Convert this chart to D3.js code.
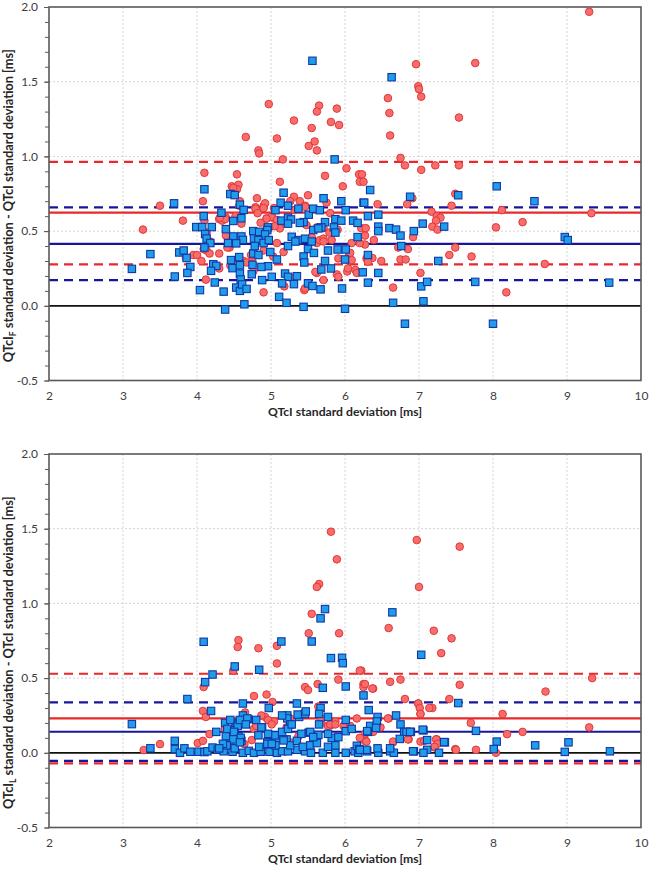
<!DOCTYPE html>
<html><head><meta charset="utf-8">
<script src="https://cdn.jsdelivr.net/npm/d3@7"></script>
<style>
body{margin:0;background:#fff;}
svg{display:block;font-family:Lato,"Open Sans",sans-serif;}
</style>
</head><body>
<svg id="chart" width="650" height="873"></svg>
<script>
// ---------- tick labels ----------
const xTickValues = [2,3,4,5,6,7,8,9,10];
const yTickValues = [-0.5,0,0.5,1,1.5,2];

// ---------- top panel (QTcI_F) ----------
const topRed = [
[4.97,1.35],[4.66,1.13],[4.83,1.04],[4.84,1.02],[5.08,1.12],[5.31,1.24],[5.65,1.34],[5.62,1.30],[5.55,1.19],[5.51,1.07],[5.59,1.10],[5.62,1.04],[5.81,1.23],[5.92,1.21],[5.89,1.32],[5.16,0.98],[4.10,0.89],[4.54,0.88],[4.47,0.80],[4.56,0.81],[4.54,0.78],[4.08,0.70],[3.50,0.67],[3.81,0.57],[3.27,0.51],[4.10,0.57],[4.13,0.49],[4.30,0.58],[4.39,0.59],[4.34,0.57],[4.81,0.72],[4.90,0.67],[4.79,0.66],[4.94,0.585],[5.02,0.59],[5.12,0.83],[5.31,0.73],[5.26,0.70],[5.50,0.74],[5.39,0.70],[5.46,0.67],[5.73,0.87],[5.75,0.69],[5.79,0.49],[5.97,0.80],[6.02,0.92],[6.19,0.88],[6.20,0.83],[4.39,0.47],[4.44,0.39],[4.13,0.37],[4.09,0.38],[3.95,0.34],[4.00,0.34],[3.85,0.32],[4.12,0.175],[4.30,0.35],[4.49,0.30],[4.63,0.30],[4.67,0.29],[4.76,0.23],[4.75,0.32],[4.90,0.09],[4.90,0.37],[5.03,0.33],[5.08,0.42],[5.17,0.36],[5.12,0.53],[5.26,0.19],[5.18,0.13],[5.45,0.105],[5.55,0.46],[5.62,0.42],[5.62,0.22],[5.66,0.44],[5.71,0.45],[5.89,0.21],[6.03,0.23],[6.05,0.33],[6.06,0.30],[6.14,0.24],[5.48,0.54],
[4.92,0.686],[4.90,0.654],[5.04,0.654],[5.01,0.596],[4.94,0.583],[5.08,0.574],[4.86,0.556],[5.12,0.518],[5.05,0.533],[5.32,0.64],[5.46,0.663],[5.62,0.525],[5.71,0.52],[5.82,0.44],[6.09,0.42],[6.07,0.354],[5.91,0.317],[6.09,0.306],[6.04,0.25],[5.91,0.194],[5.71,0.43],[5.80,0.62],[6.22,0.52],[5.90,0.51],[5.60,0.227],[5.46,0.117],[5.71,0.172],
[4.14,0.44],[4.18,0.43],[4.17,0.35],[4.41,0.39],[4.45,0.42],[4.49,0.79],[4.48,0.75],[4.58,0.70],[4.57,0.67],[4.52,0.60],[4.60,0.55],[4.38,0.58],[4.31,0.59],[4.79,0.65],[4.82,0.62],[4.73,0.34],[4.75,0.28],[4.45,0.27],[4.51,0.29],[4.30,0.25],[4.06,0.30],
[9.30,1.968],[6.96,1.617],[7.76,1.625],[6.99,1.47],[7.00,1.45],[7.03,1.40],[6.58,1.39],[6.60,1.29],[6.61,1.14],[7.54,1.26],[6.75,0.99],[6.81,0.94],[7.03,0.91],[7.22,0.94],[7.54,0.94],[6.23,0.88],[6.25,0.83],[6.44,0.68],[6.84,0.68],[6.91,0.72],[7.49,0.75],[7.44,0.67],[7.17,0.63],[7.24,0.60],[7.29,0.59],[7.23,0.57],[7.18,0.53],[7.25,0.51],[8.12,0.64],[8.40,0.56],[8.04,0.525],[9.33,0.62],[8.70,0.28],[8.18,0.09],[6.92,0.46],[6.85,0.38],[7.49,0.39],[7.41,0.34],[7.71,0.33],[7.02,0.22],[6.65,0.122],[6.75,0.31],[6.82,0.31],[6.49,0.30],[6.39,0.44],[6.28,0.52],[6.27,0.41],[6.20,0.42],[6.37,0.32],[6.16,0.22],[6.72,0.39],[6.29,0.317],[6.31,0.295],[6.27,0.47]
];
const topBlue = [
[3.69,0.686],[3.37,0.346],[3.12,0.247],[3.70,0.196],[3.76,0.357],[3.82,0.37],[3.86,0.32],[3.91,0.26],[3.87,0.22],[4.04,0.105],[3.99,0.527],[4.07,0.527],[4.20,0.527],[4.09,0.60],[4.10,0.78],[4.11,0.48],[4.13,0.45],[4.18,0.42],[4.10,0.39],[4.22,0.278],[4.26,0.267],[4.19,0.234],[4.24,0.156],[4.36,0.095],[4.38,-0.025],[4.33,0.623],[4.45,0.748],[4.51,0.741],[4.58,0.677],[4.63,0.642],[4.60,0.586],[4.49,0.568],[4.39,0.513],[4.49,0.464],[4.60,0.464],[4.62,0.441],[4.42,0.42],[4.53,0.418],[4.46,0.306],[4.57,0.326],[4.48,0.252],[4.58,0.272],[4.58,0.216],[4.59,0.176],[4.53,0.122],[4.58,0.10],[4.61,0.143],[4.67,0.113],[4.64,0.01],[4.75,0.274],[4.74,0.211],[4.76,0.50],[4.77,0.45],[4.76,0.35],
[5.56,1.64],[5.86,0.98],
[5.17,0.757],[5.13,0.69],[5.23,0.67],[5.06,0.64],[5.37,0.65],[5.51,0.61],[5.57,0.65],[5.66,0.64],[5.71,0.72],[5.95,0.70],[6.01,0.64],[6.25,0.69],[5.14,0.57],[5.23,0.59],[5.27,0.578],[5.23,0.55],[5.44,0.56],[5.39,0.555],[5.73,0.56],[5.87,0.58],[5.95,0.57],[5.85,0.525],[5.68,0.525],[5.57,0.507],[5.64,0.518],[5.87,0.49],[4.84,0.495],[4.96,0.525],[4.95,0.507],[4.92,0.478],[4.83,0.44],[4.90,0.42],[4.97,0.44],[4.78,0.40],[5.28,0.462],[5.37,0.44],[5.46,0.449],[5.23,0.40],[5.33,0.43],[5.55,0.43],[5.50,0.38],[5.58,0.354],[5.77,0.37],[5.90,0.377],[6.01,0.377],[6.00,0.31],[4.99,0.36],[5.08,0.31],[4.83,0.34],[4.96,0.265],[4.87,0.26],[5.44,0.33],[5.45,0.29],[5.73,0.30],[5.81,0.25],[5.68,0.243],[5.19,0.216],[5.23,0.194],[5.35,0.198],[5.01,0.194],[4.88,0.172],[5.15,0.15],[5.31,0.145],[5.50,0.15],[5.56,0.133],[5.67,0.11],[5.96,0.116],[5.11,0.06],[5.21,0.02],[5.44,-0.007],[6.00,-0.02],
[6.63,1.53],[8.05,0.80],[8.56,0.70],[6.88,0.73],[7.53,0.74],[6.34,0.775],[6.26,0.69],[6.31,0.60],[6.45,0.61],[6.11,0.57],[6.17,0.555],[7.05,0.55],[6.60,0.52],[6.69,0.51],[6.75,0.47],[6.93,0.50],[7.34,0.53],[6.45,0.53],[6.45,0.50],[6.17,0.46],[6.76,0.40],[8.97,0.46],[9.01,0.44],[6.31,0.34],[6.24,0.224],[6.45,0.22],[6.31,0.155],[7.26,0.30],[7.03,0.13],[7.11,0.16],[7.76,0.16],[9.57,0.155],[6.65,0.02],[7.06,0.03],[6.81,-0.12],[8.00,-0.12]
];
const topRedLines  = [0.964, 0.623, 0.277];   // upper limit, mean, lower limit
const topBlueLines = [0.659, 0.415, 0.172];

// ---------- bottom panel (QTcI_L) ----------
const botRed = [
[5.81,1.48],[6.97,1.424],[7.55,1.38],[5.89,1.295],[5.65,1.13],[5.62,1.11],[7.00,1.11],[5.55,0.93],[6.59,0.835],[7.20,0.817],[5.92,0.80],[5.51,0.80],[7.44,0.766],[4.56,0.754],[4.55,0.708],[4.83,0.70],[5.08,0.716],[5.08,0.598],[7.30,0.667],[4.49,0.55],[6.22,0.55],[5.63,0.46],[5.91,0.49],[6.25,0.46],[6.25,0.44],[6.38,0.43],[6.61,0.475],[6.75,0.49],[5.46,0.44],[5.50,0.42],[7.55,0.455],[8.71,0.41],[9.34,0.50],[4.09,0.44],[4.94,0.39],[4.77,0.38],[6.81,0.36],[7.41,0.36],[5.02,0.34],[6.99,0.33],[7.02,0.26],[7.18,0.30],[4.08,0.28],[4.12,0.24],[5.64,0.31],[5.81,0.185],[5.77,0.18],[5.68,0.20],[8.13,0.26],[7.70,0.20],[6.59,0.23],[9.30,0.17],[8.19,0.125],[8.40,0.14],[3.50,0.058],[3.28,0.018],[4.01,0.065],[4.17,0.125],[4.08,0.08],[7.24,0.09],[7.21,0.036],[7.49,0.025],[7.77,0.02],[7.50,0.02],[8.04,0.0],[6.65,0.07],[6.86,0.09],[7.02,0.075],[7.07,0.08],[5.87,0.21],[5.98,0.18],[6.07,0.18],[6.26,0.10],[6.27,0.08],[4.77,0.16],[4.74,0.085],[4.87,0.025],[4.98,0.036],[5.26,0.07],[5.37,0.11],[5.49,0.135],[4.38,0.16],[4.46,0.09],[4.64,0.058],[5.26,0.23],[5.21,0.17],[4.65,0.27],[4.92,0.24],[5.04,0.21],
[4.96,0.22],[4.87,0.25],[4.80,0.18],[5.01,0.19],[5.45,0.27],[5.68,0.23],[5.80,0.19],[5.87,0.19],[6.16,0.23],
[6.27,0.46],[6.37,0.43],[6.99,0.33],[7.01,0.30],[7.14,0.30],[7.02,0.26],[6.20,0.55],[6.58,0.23],[6.48,0.17],[6.38,0.14],[6.27,0.127],[6.20,0.10],[6.29,0.075],[6.65,0.075],[6.85,0.09],[6.88,0.14],[7.23,0.09],[7.25,0.06],[7.21,0.04]
];
const botBlue = [
[6.64,0.94],[5.73,0.962],[5.67,0.90],[4.09,0.743],[5.14,0.745],[5.55,0.745],[5.81,0.634],[5.96,0.636],[5.97,0.60],[7.03,0.656],[4.51,0.578],[4.84,0.556],[4.21,0.524],[4.11,0.473],[5.70,0.435],[6.01,0.444],[6.25,0.384],[3.87,0.36],[4.62,0.33],[5.35,0.33],[7.53,0.333],[4.97,0.30],[5.67,0.30],[6.32,0.286],[3.12,0.192],[4.19,0.28],[5.22,0.25],[5.38,0.24],[5.46,0.26],[5.22,0.23],[5.15,0.25],[6.69,0.25],[6.44,0.24],[5.65,0.26],[5.77,0.24],[4.62,0.25],[4.80,0.22],[4.69,0.225],[4.52,0.20],[4.54,0.19],[4.38,0.20],[4.41,0.16],[4.51,0.15],[4.88,0.17],[4.99,0.11],[4.95,0.07],[5.07,0.10],[5.15,0.14],[5.26,0.19],[5.21,0.09],[4.26,0.14],[4.39,0.11],[4.56,0.11],[4.60,0.08],[4.45,0.06],[6.75,0.19],[6.80,0.14],[6.89,0.14],[7.77,0.147],[7.06,0.15],[7.11,0.085],[6.01,0.145],[6.34,0.18],[6.43,0.21],[6.31,0.14],[5.64,0.12],[5.51,0.135],[5.82,0.10],[7.35,0.07],[7.11,0.02],[8.05,0.075],[8.01,0.025],[8.57,0.05],[9.02,0.07],[8.97,0.006],[9.58,0.01],[6.93,0.01],[7.06,0.0],[7.27,0.0],[3.37,0.03],[3.70,0.08],[3.70,0.025],[3.77,0.0],[3.83,0.03],[3.91,0.007],[4.02,0.007],[4.10,0.005],[4.14,0.01],[4.21,0.035],[4.28,0.02],[4.36,0.01],[4.48,0.007],[4.51,0.03],[4.62,0.0],[4.70,0.013],[4.77,0.0],[4.86,0.007],[4.98,0.007],[5.08,0.0],[5.15,0.01],[5.23,0.01],[5.35,0.02],[5.46,0.01],[5.54,0.0],[5.70,0.0],[5.87,0.0],[6.01,0.0],[6.13,0.01],[6.18,0.0],[6.30,0.01],[6.45,0.0],[6.61,0.01],[6.66,0.0],[5.87,0.05],[6.16,0.047],[6.19,0.025],[6.44,0.03],[6.61,0.03],[4.84,0.04],[4.95,0.06],[5.06,0.05],[5.53,0.05],[5.62,0.065],[5.77,0.04],[5.26,0.05],[5.35,0.08],[5.43,0.04],
[5.47,0.277],[5.36,0.256],[6.01,0.22],[5.65,0.19],[5.53,0.14],[5.23,0.16],[5.28,0.19],[5.05,0.117],[4.96,0.127],[4.87,0.17],[4.83,0.117],[5.01,0.06],[5.17,0.083],[5.41,0.127],[5.57,0.105],[5.77,0.127],[5.91,0.105],[6.09,0.16],
[4.45,0.22],[4.55,0.18],[4.58,0.22],[4.50,0.14],[4.59,0.10],[4.49,0.09],[4.58,0.07],[4.40,0.05],[4.35,0.06],[4.30,0.03],[4.68,0.23],[4.66,0.19],
[6.30,0.145],[6.42,0.167],[6.83,0.14],[6.88,0.14],[7.05,0.155],[7.34,0.072],[6.74,0.093],[6.29,0.02],[6.20,0.02],[6.92,0.01]
];
const botRedLines  = [0.529, 0.230, -0.071];
const botBlueLines = [0.337, 0.141, -0.054];

// ---------- layout ----------
const svg = d3.select("#chart");
const plotLeft = 49, plotW = 592, plotH = 373.5;
const panels = [
  {top: 7,   sub: "F", red: topRed, blue: topBlue, redLines: topRedLines, blueLines: topBlueLines},
  {top: 454, sub: "L", red: botRed, blue: botBlue, redLines: botRedLines, blueLines: botBlueLines}
];
const redLine = "#e8282a", blueLine = "#16169c";
const redFill = "#f96c6c", redStroke = "#e03838";
const blueFill = "#1f9de8", blueStroke = "#1236a6";
const frameColor = "#595959", tickText = "#404040";

panels.forEach(p => {
  const g = svg.append("g").attr("transform", `translate(${plotLeft},${p.top})`);
  const x = d3.scaleLinear().domain([2,10]).range([0, plotW]);
  const y = d3.scaleLinear().domain([-0.5,2]).range([plotH, 0]);

  // gridlines
  g.append("g").selectAll("line.vx").data(xTickValues.slice(1,-1)).join("line")
    .attr("x1", d => x(d)).attr("x2", d => x(d)).attr("y1", 0).attr("y2", plotH)
    .attr("stroke", "#d4d4d4").attr("stroke-width", 1).attr("stroke-dasharray", "2,2");
  g.append("g").selectAll("line.hy").data(yTickValues.filter(v => v > -0.5 && v < 2 && v !== 0)).join("line")
    .attr("x1", 0).attr("x2", plotW).attr("y1", d => y(d)).attr("y2", d => y(d))
    .attr("stroke", "#d4d4d4").attr("stroke-width", 1).attr("stroke-dasharray", "2,2");

  // minor y ticks
  const minor = d3.range(-5, 21).map(i => i / 10);
  const minorAxis = g.append("g").call(d3.axisLeft(y).tickValues(minor).tickSize(4).tickFormat(""));
  minorAxis.select(".domain").remove();
  minorAxis.selectAll("line").attr("stroke", frameColor);

  // major y axis labels
  const yAxis = g.append("g").call(d3.axisLeft(y).tickValues(yTickValues).tickSize(5).tickPadding(6).tickFormat(d => d.toFixed(1)));
  yAxis.select(".domain").remove();
  yAxis.selectAll("line").attr("stroke", frameColor);
  yAxis.selectAll("text").attr("font-size", 12).attr("fill", tickText).attr("font-family", "Lato, 'Open Sans', sans-serif");

  // x axis labels
  const xAxis = g.append("g").attr("transform", `translate(0,${plotH})`)
    .call(d3.axisBottom(x).tickValues(xTickValues).tickSize(0).tickPadding(11).tickFormat(d3.format("d")));
  xAxis.select(".domain").remove();
  xAxis.selectAll("text").attr("font-size", 12).attr("fill", tickText).attr("font-family", "Lato, 'Open Sans', sans-serif");

  // zero line
  g.append("line").attr("x1", 0).attr("x2", plotW).attr("y1", y(0)).attr("y2", y(0))
    .attr("stroke", "#111").attr("stroke-width", 1.8);

  // reference lines (upper, mean, lower)
  const drawLines = (vals, color) => {
    g.append("g").selectAll("line").data(vals).join("line")
      .attr("x1", 0).attr("x2", plotW).attr("y1", d => y(d)).attr("y2", d => y(d))
      .attr("stroke", color).attr("stroke-width", 2.2)
      .attr("stroke-dasharray", (d, i) => i === 1 ? null : "9,6");
  };
  drawLines(p.redLines, redLine);
  drawLines(p.blueLines, blueLine);

  // points
  g.append("g").selectAll("circle").data(p.red).join("circle")
    .attr("cx", d => x(d[0])).attr("cy", d => y(d[1])).attr("r", 3.8)
    .attr("fill", redFill).attr("stroke", redStroke).attr("stroke-width", 1);
  const s = 7.4;
  g.append("g").selectAll("rect").data(p.blue).join("rect")
    .attr("x", d => x(d[0]) - s/2).attr("y", d => y(d[1]) - s/2).attr("width", s).attr("height", s)
    .attr("fill", blueFill).attr("stroke", blueStroke).attr("stroke-width", 1.1);

  // frame
  g.append("rect").attr("x", 0).attr("y", 0).attr("width", plotW).attr("height", plotH)
    .attr("fill", "none").attr("stroke", frameColor).attr("stroke-width", 1.6);

  // x title
  g.append("text").attr("x", plotW/2).attr("y", plotH + 35)
    .attr("text-anchor", "middle").attr("font-size", 12.2).attr("font-weight", "bold").attr("fill", "#262626")
    .text("QTcI standard deviation [ms]");

  // y title
  const yt = g.append("text")
    .attr("transform", `translate(${12.5 - plotLeft},${plotH/2 + 12}) rotate(-90)`)
    .attr("text-anchor", "middle").attr("font-size", 12.8).attr("font-weight", "bold").attr("fill", "#262626");
  yt.append("tspan").text("QTcI");
  yt.append("tspan").attr("font-size", 8.5).attr("dy", 3).text(p.sub);
  yt.append("tspan").attr("dy", -3).text(" standard deviation - QTcI standard deviation [ms]");
});
</script>
</body></html>
